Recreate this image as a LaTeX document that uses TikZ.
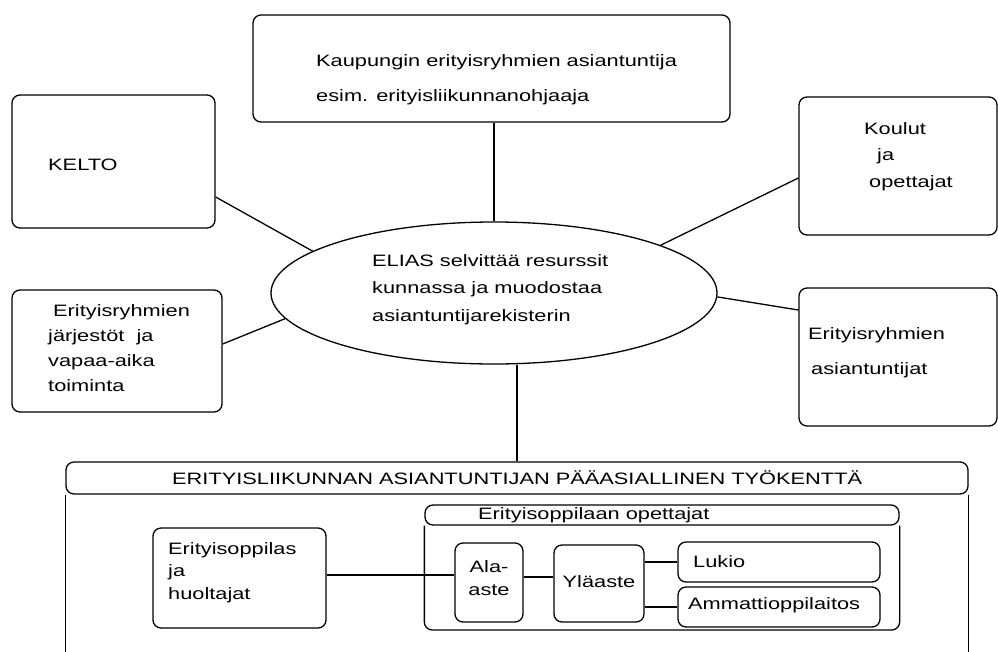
\documentclass[tikz,border=0pt]{standalone}
\usepackage{fontspec}
\setmainfont{Liberation Sans}[FakeStretch=1.32]
\usetikzlibrary{shapes.geometric,calc}
\tikzset{
  box/.style={draw, rounded corners=8pt, line width=1.3pt, inner sep=0pt},
  txt/.style={inner sep=0pt, anchor=west, align=left},
  conn/.style={line width=1.3pt},
}
\newcommand{\fs}[1]{\fontsize{16.5}{#1}\selectfont}
\begin{document}
\begin{tikzpicture}[x=1pt,y=-1pt]
\useasboundingbox (0,0) rectangle (998,651);
% outer boxes
\node[box, minimum width=477pt, minimum height=107pt] (top) at (491.5,68.5) {};
\node[box, minimum width=203pt, minimum height=133pt] (kelto) at (113.5,161.5) {};
\node[box, minimum width=210pt, minimum height=122pt] (jarj) at (117,351) {};
\node[box, minimum width=198pt, minimum height=138pt] (koulut) at (898,166) {};
\node[box, minimum width=198pt, minimum height=138pt] (asiant) at (898,357) {};
\node[draw, ellipse, line width=1.3pt, minimum width=446pt, minimum height=142pt, inner sep=0pt] (ell) at (494,293) {};
% texts
\node[txt, font=\fs{35pt}] (ttop) at (316,79.5) {Kaupungin erityisryhmien asiantuntija\\esim. erityisliikunnanohjaaja};
\node[txt, font=\fs{27.5pt}] (tell) at (372,289.5) {ELIAS selvittää resurssit\\kunnassa ja muodostaa\\asiantuntijarekisterin};
\node[txt, font=\fs{20pt}] (tkelto) at (48,165) {KELTO};
\node[txt, font=\fs{25pt}] (tjarj) at (48,348.5) {\hspace{5pt}Erityisryhmien\\järjestöt\ \ ja\\vapaa-aika\\toiminta};
\node[txt, font=\fs{26.5pt}] (tkoul) at (864,156.5) {Koulut\\\hspace{13pt}ja\\\hspace{5pt}opettajat};
\node[txt, font=\fs{35pt}] (tasi) at (808,352.5) {Erityisryhmien\\\hspace{3pt}asiantuntijat};
% connectors to ellipse
\draw[conn] (top.south -| ell.north) -- (ell.north);
\draw[conn] (kelto.east |- 0,197) -- (ell.167);
\draw[conn] (jarj.east |- 0,344) -- (ell.187);
\draw[conn] (koulut.west |- 0,178) -- (ell.16);
\draw[conn] (asiant.west |- 0,310) -- (ell.-1);
% big frame
\node[box, minimum width=902pt, minimum height=32pt] (bighdr) at (517,478) {};
\draw[conn] (bighdr.south west) -- (bighdr.south west |- 0,700);
\draw[conn] (bighdr.south east) -- (bighdr.south east |- 0,700);
\node[txt, font=\fs{20pt}] (tbig) at (172,478) {ERITYISLIIKUNNAN ASIANTUNTIJAN PÄÄASIALLINEN TYÖKENTTÄ};
\draw[conn] (ell.south -| bighdr.north) -- (bighdr.north);
% inner frame
\node[box, minimum width=474pt, minimum height=20pt] (ihdr) at (662,515) {};
\draw[conn, rounded corners=8pt] (ihdr.south west) -- (ihdr.south west |- 0,630) -- (ihdr.south east |- 0,630) -- (ihdr.south east);
\node[txt, font=\fs{20pt}] (tihdr) at (478,515) {Erityisoppilaan opettajat};
% inner boxes
\node[box, minimum width=173pt, minimum height=100pt] (epp) at (239.5,578) {};
\node[box, minimum width=68pt, minimum height=79pt] (ala) at (489,582.5) {};
\node[box, minimum width=90pt, minimum height=77pt] (yla) at (599,583.5) {};
\node[box, minimum width=202pt, minimum height=40pt] (lukio) at (779,562) {};
\node[box, minimum width=202pt, minimum height=40pt] (amm) at (779,607) {};
\node[txt, font=\fs{22.5pt}] (tepp) at (168,572.5) {Erityisoppilas\\ja\\huoltajat};
\node[inner sep=0pt, align=center, font=\fs{23pt}] (tala) at (489,578.5) {Ala-\\aste};
\node[inner sep=0pt, font=\fs{20pt}] (tyla) at (599,582) {Yläaste};
\node[txt, font=\fs{20pt}] (tluk) at (693,562) {Lukio};
\node[txt, font=\fs{20pt}] (tamm) at (688,605) {Ammattioppilaitos};
% inner connectors
\draw[conn] (epp.east |- 0,575) -- (ala.west |- 0,575);
\draw[conn] (ala.east |- 0,577) -- (yla.west |- 0,577);
\draw[conn] (yla.east |- lukio.west) -- (lukio.west);
\draw[conn] (yla.east |- amm.west) -- (amm.west);
\end{tikzpicture}
\end{document}
